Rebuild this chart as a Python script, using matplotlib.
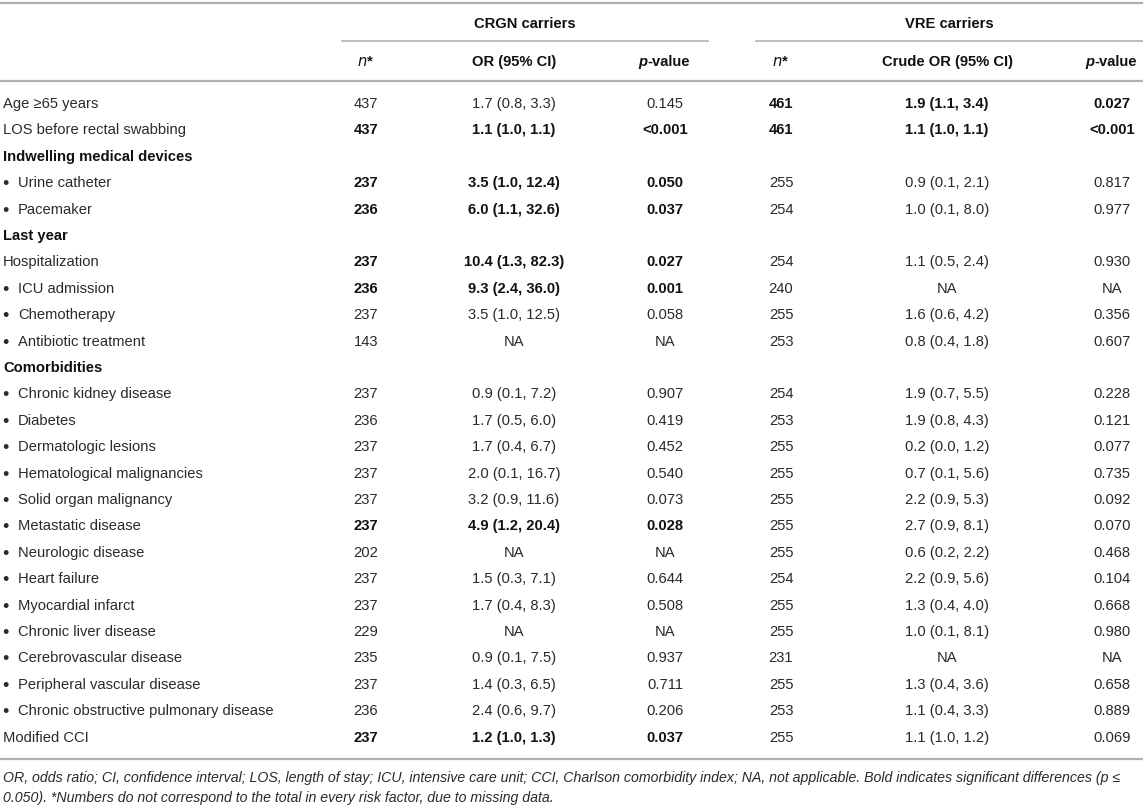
import matplotlib
matplotlib.use("Agg")
import matplotlib.pyplot as plt

plt.rcParams["font.family"] = ["Liberation Sans", "DejaVu Sans"]

# ---- table content ----
labels = ["Age ≥65 years", "LOS before rectal swabbing", "Indwelling medical devices",
          "Urine catheter", "Pacemaker", "Last year", "Hospitalization", "ICU admission",
          "Chemotherapy", "Antibiotic treatment", "Comorbidities", "Chronic kidney disease",
          "Diabetes", "Dermatologic lesions", "Hematological malignancies",
          "Solid organ malignancy", "Metastatic disease", "Neurologic disease", "Heart failure",
          "Myocardial infarct", "Chronic liver disease", "Cerebrovascular disease",
          "Peripheral vascular disease", "Chronic obstructive pulmonary disease", "Modified CCI"]
sections = ["Indwelling medical devices", "Last year", "Comorbidities"]
bulleted = ["Urine catheter", "Pacemaker", "ICU admission", "Chemotherapy", "Antibiotic treatment",
            "Chronic kidney disease", "Diabetes", "Dermatologic lesions", "Hematological malignancies",
            "Solid organ malignancy", "Metastatic disease", "Neurologic disease", "Heart failure",
            "Myocardial infarct", "Chronic liver disease", "Cerebrovascular disease",
            "Peripheral vascular disease", "Chronic obstructive pulmonary disease"]

crgn_n = ["437", "437", "", "237", "236", "", "237", "236", "237", "143", "", "237", "236", "237",
          "237", "237", "237", "202", "237", "237", "229", "235", "237", "236", "237"]
crgn_or = ["1.7 (0.8, 3.3)", "1.1 (1.0, 1.1)", "", "3.5 (1.0, 12.4)", "6.0 (1.1, 32.6)", "",
           "10.4 (1.3, 82.3)", "9.3 (2.4, 36.0)", "3.5 (1.0, 12.5)", "NA", "",
           "0.9 (0.1, 7.2)", "1.7 (0.5, 6.0)", "1.7 (0.4, 6.7)", "2.0 (0.1, 16.7)",
           "3.2 (0.9, 11.6)", "4.9 (1.2, 20.4)", "NA", "1.5 (0.3, 7.1)", "1.7 (0.4, 8.3)", "NA",
           "0.9 (0.1, 7.5)", "1.4 (0.3, 6.5)", "2.4 (0.6, 9.7)", "1.2 (1.0, 1.3)"]
crgn_p = ["0.145", "<0.001", "", "0.050", "0.037", "", "0.027", "0.001", "0.058", "NA", "",
          "0.907", "0.419", "0.452", "0.540", "0.073", "0.028", "NA", "0.644", "0.508", "NA",
          "0.937", "0.711", "0.206", "0.037"]
crgn_bold = ["LOS before rectal swabbing", "Urine catheter", "Pacemaker", "Hospitalization",
             "ICU admission", "Metastatic disease", "Modified CCI"]

vre_n = ["461", "461", "", "255", "254", "", "254", "240", "255", "253", "", "254", "253", "255",
         "255", "255", "255", "255", "254", "255", "255", "231", "255", "253", "255"]
vre_or = ["1.9 (1.1, 3.4)", "1.1 (1.0, 1.1)", "", "0.9 (0.1, 2.1)", "1.0 (0.1, 8.0)", "",
          "1.1 (0.5, 2.4)", "NA", "1.6 (0.6, 4.2)", "0.8 (0.4, 1.8)", "",
          "1.9 (0.7, 5.5)", "1.9 (0.8, 4.3)", "0.2 (0.0, 1.2)", "0.7 (0.1, 5.6)",
          "2.2 (0.9, 5.3)", "2.7 (0.9, 8.1)", "0.6 (0.2, 2.2)", "2.2 (0.9, 5.6)",
          "1.3 (0.4, 4.0)", "1.0 (0.1, 8.1)", "NA", "1.3 (0.4, 3.6)", "1.1 (0.4, 3.3)",
          "1.1 (1.0, 1.2)"]
vre_p = ["0.027", "<0.001", "", "0.817", "0.977", "", "0.930", "NA", "0.356", "0.607", "",
         "0.228", "0.121", "0.077", "0.735", "0.092", "0.070", "0.468", "0.104", "0.668", "0.980",
         "NA", "0.658", "0.889", "0.069"]
vre_bold = ["Age ≥65 years", "LOS before rectal swabbing"]

groups = ["CRGN carriers", "VRE carriers"]
sub_headers = ["n*", "OR (95% CI)", "p-value", "n*", "Crude OR (95% CI)", "p-value"]
footnote = ["OR, odds ratio; CI, confidence interval; LOS, length of stay; ICU, intensive care unit; "
            "CCI, Charlson comorbidity index; NA, not applicable. Bold indicates significant differences (p ≤",
            "0.050). *Numbers do not correspond to the total in every risk factor, due to missing data."]

# ---- layout (pixels) ----
W, H = 1143, 806
col_x = [366, 514, 665, 781, 947, 1112]
row0, row_h = 104, 26.4
fs = 10.6
reg_c, bold_c, line_c = "#2a2a2a", "#111111", "#b0b0b0"

fig = plt.figure(figsize=(W / 100, H / 100), dpi=100)
ax = fig.add_axes([0, 0, 1, 1])
ax.set_xlim(0, W)
ax.set_ylim(H, 0)
ax.axis("off")

# rules
ax.plot([0, W], [3, 3], c=line_c, lw=1.6)
ax.plot([342, 708], [41, 41], c=line_c, lw=1.2)
ax.plot([756, W], [41, 41], c=line_c, lw=1.2)
ax.plot([0, W], [81, 81], c=line_c, lw=1.6)

# header
for g, x in zip(groups, [(342 + 708) / 2, (756 + W) / 2]):
    ax.text(x, 24, g, ha="center", va="center", fontsize=fs, fontweight="bold", color=bold_c)
for h, x in zip(sub_headers, col_x):
    if h == "n*":
        ax.text(x, 62, "$\\mathbf{\\it{n}}$*", ha="center", va="center", fontsize=fs,
                fontweight="bold", color=bold_c)
    elif h == "p-value":
        ax.text(x - 18, 62, "p", ha="right", va="center", fontsize=fs, fontweight="bold",
                style="italic", color=bold_c)
        ax.text(x - 18, 62, "-value", ha="left", va="center", fontsize=fs, fontweight="bold",
                color=bold_c)
    else:
        ax.text(x, 62, h, ha="center", va="center", fontsize=fs, fontweight="bold", color=bold_c)

# body
for i, lab in enumerate(labels):
    y = row0 + i * row_h
    if lab in sections:
        ax.text(3, y, lab, ha="left", va="center", fontsize=fs, fontweight="bold", color=bold_c)
        continue
    if lab in bulleted:
        ax.text(2, y + 1.5, "•", ha="left", va="center", fontsize=fs + 2.5, color=reg_c)
        ax.text(18, y, lab, ha="left", va="center", fontsize=fs, color=reg_c)
    else:
        ax.text(3, y, lab, ha="left", va="center", fontsize=fs, color=reg_c)
    cells = [crgn_n[i], crgn_or[i], crgn_p[i], vre_n[i], vre_or[i], vre_p[i]]
    for j, (val, x) in enumerate(zip(cells, col_x)):
        b = lab in (crgn_bold if j < 3 else vre_bold)
        ax.text(x, y, val, ha="center", va="center", fontsize=fs,
                fontweight="bold" if b else "normal", color=bold_c if b else reg_c)

ax.plot([0, W], [759, 759], c=line_c, lw=1.6)
for k, line in enumerate(footnote):
    ax.text(3, 778 + k * 20, line, ha="left", va="center", fontsize=10.2, style="italic", color=reg_c)

fig.savefig("out.png", dpi=100)
